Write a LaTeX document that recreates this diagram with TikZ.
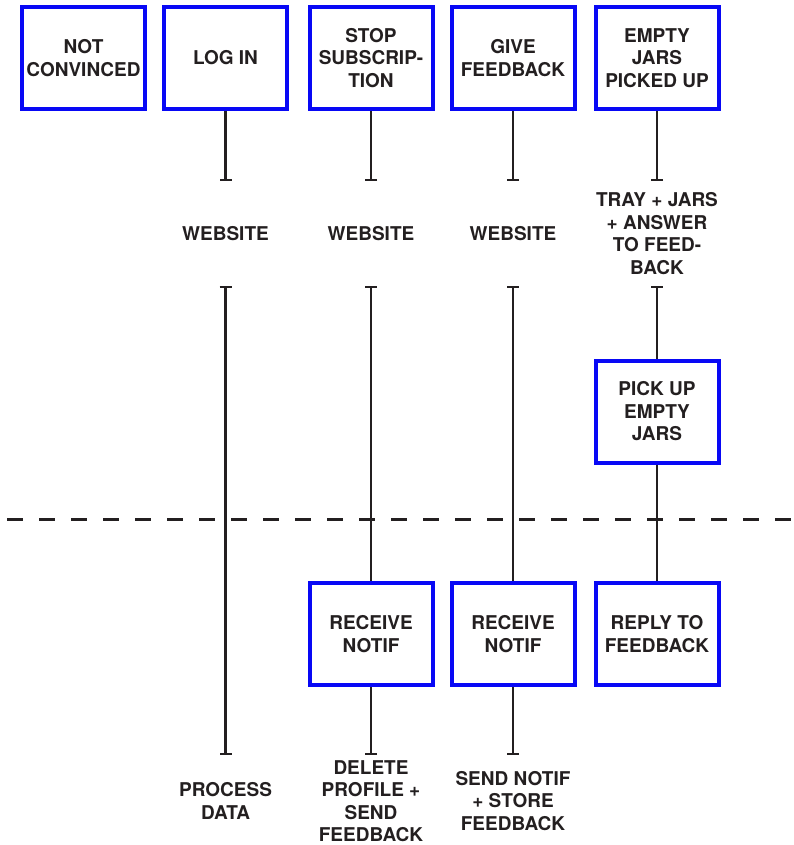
\documentclass[tikz,border=0pt]{standalone}
\usepackage{fontspec}
\setmainfont{TeX Gyre Heros}
\usepackage{tikz}
\usetikzlibrary{arrows.meta}
\definecolor{boxblue}{RGB}{8,8,245}
\definecolor{ink}{RGB}{35,31,32}
\tikzset{>={Bar[width=12pt]}}
\tikzset{
  stepbox/.style={draw=boxblue, line width=4pt, fill=white, minimum width=123pt,
    minimum height=102pt, inner sep=2pt, align=center, text=ink,
    font=\fontsize{19}{22.5}\selectfont\bfseries},
  channel/.style={inner sep=0pt, outer sep=0pt, minimum height=105pt, align=center,
    text=ink, font=\fontsize{19}{22.5}\selectfont\bfseries},
  outcome/.style={channel, minimum height=92pt},
  link/.style={draw=ink, line width=2.3pt},
}

\begin{document}
\begin{tikzpicture}[x=1pt, y=-1pt]
    \useasboundingbox (0,0) rectangle (794,845);
    % customer actions
    \node[stepbox] (notconv) at (83.5,58) {NOT\\CONVINCED};
    \node[stepbox] (login) at (225.5,58) {LOG IN};
    \node[stepbox] (stopsub) at (371,58) {STOP\\SUBSCRIP-\\TION};
    \node[stepbox] (givefb) at (513,58) {GIVE\\FEEDBACK};
    \node[stepbox] (jars) at (657,58) {EMPTY\\JARS\\PICKED UP};
    % touchpoints
    \node[channel] (web2) at (225.5,233.5) {WEBSITE};
    \node[channel] (web3) at (371,233.5) {WEBSITE};
    \node[channel] (web4) at (513,233.5) {WEBSITE};
    \node[channel] (tray) at (657,233.5) {TRAY + JARS\\+ ANSWER\\TO FEED-\\BACK};
    % front stage / back stage
    \node[stepbox] (pickup) at (657,411.5) {PICK UP\\EMPTY\\JARS};
    \node[stepbox] (recv3) at (371,634) {RECEIVE\\NOTIF};
    \node[stepbox] (recv4) at (513,634) {RECEIVE\\NOTIF};
    \node[stepbox] (reply) at (657,634) {REPLY TO\\FEEDBACK};
    % support processes
    \node[outcome] (procdata) at (225.5,801) {PROCESS\\DATA};
    \node[outcome] (delprof) at (371,801) {DELETE\\PROFILE +\\SEND\\FEEDBACK};
    \node[outcome] (storefb) at (513,801) {SEND NOTIF\\+ STORE\\FEEDBACK};

    \draw[link,->] (login) -- (web2);
    \draw[link,->] (stopsub) -- (web3);
    \draw[link,->] (givefb) -- (web4);
    \draw[link,->] (jars) -- (tray);
    \draw[link,<->] (web2) -- (procdata);
    \draw[link,<-] (web3) -- (recv3);
    \draw[link,<-] (web4) -- (recv4);
    \draw[link,<-] (tray) -- (pickup);
    \draw[link] (pickup) -- (reply);
    \draw[link,->] (recv3) -- (delprof);
    \draw[link,->] (recv4) -- (storefb);

    \draw[ink, line width=3pt, dash pattern=on 16pt off 16pt] (7,519) -- (794,519);
\end{tikzpicture}
\end{document}
